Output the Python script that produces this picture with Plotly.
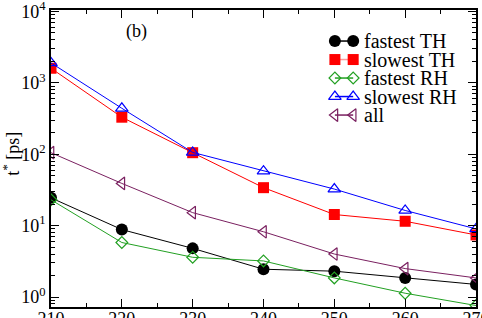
import plotly.graph_objects as go

temps = [210, 220, 230, 240, 250, 260, 270]
fastest_th = [24.5, 8.8, 4.8, 2.45, 2.3, 1.85, 1.5]
slowest_th = [1600, 330, 105, 34, 14.3, 11.5, 7.4]
fastest_rh = [23, 5.8, 3.6, 3.2, 1.85, 1.13, 0.76]
slowest_rh = [1900, 440, 106, 58, 32.5, 16.3, 9.0]
all_ = [105, 39, 15.2, 8.2, 4.0, 2.5, 1.85]
names = ["fastest TH", "slowest TH", "fastest RH", "slowest RH", "all"]
ytick_vals = [1, 10, 100, 1000, 10000]
ytick_text = ["10<sup>0</sup>", "10<sup>1</sup>", "10<sup>2</sup>", "10<sup>3</sup>", "10<sup>4</sup>"]

colors = ["black", "#ff0000", "#22a022", "#0000ff", "#7a2060"]
legend_line_colors = ["black", "#ff9a9a", "#22a022", "#0000ff", "#7a2060"]
markers = [
    dict(symbol="circle", size=12, color="black"),
    dict(symbol="square", size=11, color="#ff0000"),
    dict(symbol="diamond-open", size=9, color="#22a022", line=dict(width=1.2)),
    dict(symbol="triangle-up-open", size=11, color="#0000ff", line=dict(width=1.2)),
    dict(symbol="triangle-left-open", size=11, color="#7a2060", line=dict(width=1.2)),
]

fig = go.Figure()
for name, vals, col, mk in zip(names, [fastest_th, slowest_th, fastest_rh, slowest_rh, all_], colors, markers):
    fig.add_trace(go.Scatter(x=temps, y=vals, name=name, mode="lines+markers",
                             line=dict(color=col, width=1), marker=mk, showlegend=False))

# manual legend drawn on an overlay axis in paper-like units
leg_x0, leg_x1, leg_tx = 0.668, 0.711, 0.731
leg_y0, leg_dy = 0.8955, 0.0623
for i, (name, lc, mk) in enumerate(zip(names, legend_line_colors, markers)):
    yy = leg_y0 - i * leg_dy
    fig.add_trace(go.Scatter(x=[leg_x0, leg_x1], y=[yy, yy], mode="lines+markers",
                             line=dict(color=lc, width=1.5), marker=mk, showlegend=False,
                             xaxis="x2", yaxis="y2", hoverinfo="skip"))

font = dict(family="Liberation Serif", size=18, color="black")
ann = [
    dict(text="(b)", x=0.2, y=0.926, xref="paper", yref="paper", showarrow=False,
         font=font, xanchor="center", yanchor="middle"),
    dict(text="t<sup>*</sup> [ps]", x=-0.093, y=0.518, xref="paper", yref="paper",
         showarrow=False, textangle=-90, font=font, xanchor="center", yanchor="middle"),
]
for i, name in enumerate(names):
    ann.append(dict(text=name, x=leg_tx, y=leg_y0 - i * leg_dy, xref="paper", yref="paper",
                    showarrow=False, xanchor="left", yanchor="middle",
                    font=dict(family="Liberation Serif", size=20, color="black")))

minor_y = [m * 10 ** e for e in range(-1, 4) for m in range(2, 10)]

fig.update_layout(
    width=482, height=318,
    margin=dict(l=51, r=6, t=10, b=11, autoexpand=False),
    plot_bgcolor="white", paper_bgcolor="white",
    font=font,
    showlegend=False,
    xaxis=dict(range=[210, 270], tickvals=temps, ticks="inside", ticklen=8, tickwidth=1,
               showline=True, linecolor="black", linewidth=1.5, mirror="ticks", showgrid=False,
               zeroline=False, tickcolor="black", automargin=False, ticklabeloverflow="allow",
               tickfont=font, ticklabelstandoff=-5,
               minor=dict(ticks="inside", ticklen=4, dtick=5, tickcolor="black", showgrid=False)),
    yaxis=dict(type="log", range=[-0.14, 4.02], tickvals=ytick_vals, ticktext=ytick_text,
               ticks="inside", ticklen=8, tickwidth=1, tickcolor="black",
               showline=True, linecolor="black", linewidth=1.5, mirror="ticks", showgrid=False,
               zeroline=False, automargin=False, ticklabeloverflow="allow", tickfont=font,
               minor=dict(ticks="inside", ticklen=4, tickcolor="black", showgrid=False,
                          tickvals=minor_y)),
    xaxis2=dict(range=[0, 1], overlaying="x", visible=False, fixedrange=True),
    yaxis2=dict(range=[0, 1], overlaying="y", visible=False, fixedrange=True),
    annotations=ann,
)

fig.write_html("out.html", config={"displayModeBar": False},
               post_script="document.body.style.margin='0';document.body.style.overflow='hidden';")
